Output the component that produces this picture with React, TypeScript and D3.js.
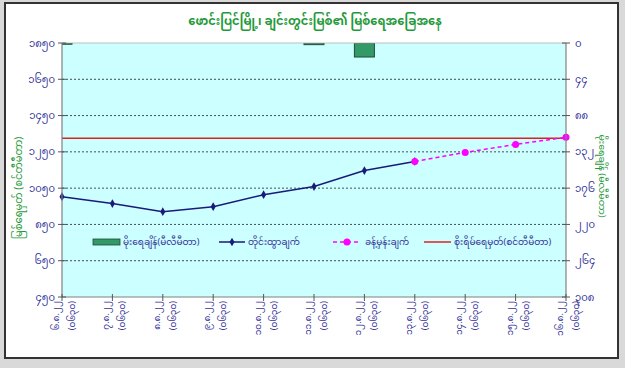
import React from "react";
import * as d3 from "d3";

const categories = ["၆.၈.၂၂", "၇.၈.၂၂", "၈.၈.၂၂", "၉.၈.၂၂", "၁၀.၈.၂၂", "၁၁.၈.၂၂", "၁၂.၈.၂၂", "၁၃.၈.၂၂", "၁၄.၈.၂၂", "၁၅.၈.၂၂", "၁၆.၈.၂၂"];
const timeLabels = ["(၀၆၃၀)", "(၀၆၃၀)", "(၀၆၃၀)", "(၀၆၃၀)", "(၀၆၃၀)", "(၀၆၃၀)", "(၀၆၃၀)", "(၀၆၃၀)", "(၀၆၃၀)", "(၀၆၃၀)", "(၀၆၃၀)"];
const observed: (number | null)[] = [1003, 965, 920, 948, 1014, 1059, 1147, 1197, null, null, null];
const forecast: (number | null)[] = [null, null, null, null, null, null, null, 1197, 1247, 1291, 1330];
const rainfall = [1.5, 0, 0, 0, 0, 2, 17, 0, 0, 0, 0];
const dangerLevel = 1325;
const leftTicks = [450, 650, 850, 1050, 1250, 1450, 1650, 1850];
const rightTicks = [0, 44, 88, 132, 176, 220, 264, 308];

const title = "ဖောင်းပြင်မြို့၊ ချင်းတွင်းမြစ်၏ မြစ်ရေအခြေအနေ";
const leftTitle = "မြစ်ရေမှတ် (စင်တီမီတာ)";
const rightTitle = "မိုးရေချိန် (မီလီမီတာ)";
const legendLabels = ["မိုးရေချိန်(မီလီမီတာ)", "တိုင်းထွာချက်", "ခန့်မှန်းချက်", "စိုးရိမ်ရေမှတ်(စင်တီမီတာ)"];

const MM = "0123456789";
const toMy = (n: number) => String(n).split("").map((c) => (MM.includes(c) ? String.fromCharCode(0x1040 + Number(c)) : c)).join("");

const FONT = "'Noto Sans Myanmar', 'Padauk', 'Myanmar Text', 'Noto Sans', sans-serif";

export default function App() {
  const W = 625, H = 368;
  const L = 62, R = 566, T = 43, B = 297;
  const x = d3.scalePoint<string>().domain(categories).range([L, R]);
  const yL = d3.scaleLinear().domain([450, 1850]).range([B, T]);
  const yR = d3.scaleLinear().domain([0, 308]).range([T, B]);
  const barW = 20;

  const line = d3.line<number | null>()
    .defined((d) => d !== null)
    .x((_, i) => x(categories[i])!)
    .y((d) => yL(d as number));

  const navy = "#1a1a7a";
  const labelColor = "#333399";
  const green = "#1f9a3a";

  const legendY = 242;
  const lg = [
    { x0: 93, tx: 123 },
    { x0: 219, tx: 248 },
    { x0: 333, tx: 365 },
    { x0: 424, tx: 454 },
  ];

  return (
    <svg width={W} height={H} style={{ position: "absolute", left: 0, top: 0 }} fontFamily={FONT}>
      <defs>
        <clipPath id="plotClip">
          <rect x={L} y={T} width={R - L} height={B - T} />
        </clipPath>
      </defs>
      <rect x={0} y={0} width={W} height={H} fill="#d9d9d9" />
      <rect x={5} y={3} width={613} height={355} fill="#ffffff" stroke="#333" strokeWidth={2} />
      <text x={315} y={25} textAnchor="middle" fill={green} fontSize={11.5} fontWeight="bold">{title}</text>
      <rect x={L} y={T} width={R - L} height={B - T} fill="#ccffff" />
      {leftTicks.slice(1, -1).map((t) => (
        <line key={t} x1={L} x2={R} y1={yL(t)} y2={yL(t)} stroke="#222" strokeWidth={0.8} strokeDasharray="2,2" />
      ))}
      <g clipPath="url(#plotClip)">
        {rainfall.map((v, i) => v > 0 ? (
          <rect key={i} x={x(categories[i])! - barW / 2} y={yR(0)} width={barW} height={yR(v) - yR(0)} fill="#339966" stroke="#1d4d33" strokeWidth={1} />
        ) : null)}
      </g>
      <line x1={L} x2={R} y1={yL(dangerLevel)} y2={yL(dangerLevel)} stroke="#e02020" strokeWidth={1.5} />
      <path d={line(observed) || ""} fill="none" stroke={navy} strokeWidth={1.5} />
      {observed.map((v, i) => v !== null ? (
        <path key={i} d={d3.symbol(d3.symbolDiamond, 22)()!} transform={`translate(${x(categories[i])},${yL(v)})`} fill={navy} />
      ) : null)}
      <path d={line(forecast) || ""} fill="none" stroke="#ff00ff" strokeWidth={1.5} strokeDasharray="4,3" />
      {forecast.map((v, i) => v !== null ? (
        <circle key={i} cx={x(categories[i])!} cy={yL(v)} r={3.5} fill="#ff00ff" />
      ) : null)}
      <line x1={L} x2={L} y1={T} y2={B} stroke="#808080" strokeWidth={1.2} />
      <line x1={R} x2={R} y1={T} y2={B} stroke="#808080" strokeWidth={1.2} />
      <line x1={L} x2={R} y1={B} y2={B} stroke="#808080" strokeWidth={1.2} />
      <line x1={L} x2={R} y1={T} y2={T} stroke="#b0b0b0" strokeWidth={0.8} />
      {leftTicks.map((t) => (
        <g key={t}>
          <line x1={L - 4} x2={L + 4} y1={yL(t)} y2={yL(t)} stroke="#555" />
          <text x={L - 7} y={yL(t)} dy="0.35em" textAnchor="end" fontSize={10} fill={labelColor}>{toMy(t)}</text>
        </g>
      ))}
      {rightTicks.map((t) => (
        <g key={t}>
          <line x1={R - 4} x2={R + 4} y1={yR(t)} y2={yR(t)} stroke="#555" />
          <text x={R + 9} y={yR(t)} dy="0.35em" textAnchor="start" fontSize={10} fill={labelColor}>{toMy(t)}</text>
        </g>
      ))}
      {categories.map((c, i) => {
        const cx = x(c)!;
        return (
          <g key={c}>
            <line x1={cx} x2={cx} y1={B - 3} y2={B + 4} stroke="#555" />
            <text transform={`translate(${cx - 3},${B + 4}) rotate(-90)`} textAnchor="end" fontSize={9} fill={labelColor}>{c}</text>
            <text transform={`translate(${cx + 13},${B + 4}) rotate(-90)`} textAnchor="end" fontSize={9} fill={labelColor}>{timeLabels[i]}</text>
          </g>
        );
      })}
      <text transform={`translate(22,188) rotate(-90)`} textAnchor="middle" fontSize={10} fill={green}>{leftTitle}</text>
      <text transform={`translate(599,176) rotate(90)`} textAnchor="middle" fontSize={9.5} fill={green}>{rightTitle}</text>
      <g fontSize={9} fill={labelColor}>
        <rect x={lg[0].x0} y={legendY - 3} width={27} height={6} fill="#339966" stroke="#1d4d33" strokeWidth={0.8} />
        <text x={lg[0].tx} y={legendY} dy="0.35em">{legendLabels[0]}</text>
        <line x1={lg[1].x0} x2={lg[1].x0 + 26} y1={legendY} y2={legendY} stroke={navy} strokeWidth={1.5} />
        <path d={d3.symbol(d3.symbolDiamond, 22)()!} transform={`translate(${lg[1].x0 + 13},${legendY})`} fill={navy} />
        <text x={lg[1].tx} y={legendY} dy="0.35em">{legendLabels[1]}</text>
        <line x1={lg[2].x0} x2={lg[2].x0 + 28} y1={legendY} y2={legendY} stroke="#ff00ff" strokeWidth={1.5} strokeDasharray="4,3" />
        <circle cx={lg[2].x0 + 14} cy={legendY} r={3.5} fill="#ff00ff" />
        <text x={lg[2].tx} y={legendY} dy="0.35em">{legendLabels[2]}</text>
        <line x1={lg[3].x0} x2={lg[3].x0 + 27} y1={legendY} y2={legendY} stroke="#e02020" strokeWidth={1.5} />
        <text x={lg[3].tx} y={legendY} dy="0.35em">{legendLabels[3]}</text>
      </g>
    </svg>
  );
}
